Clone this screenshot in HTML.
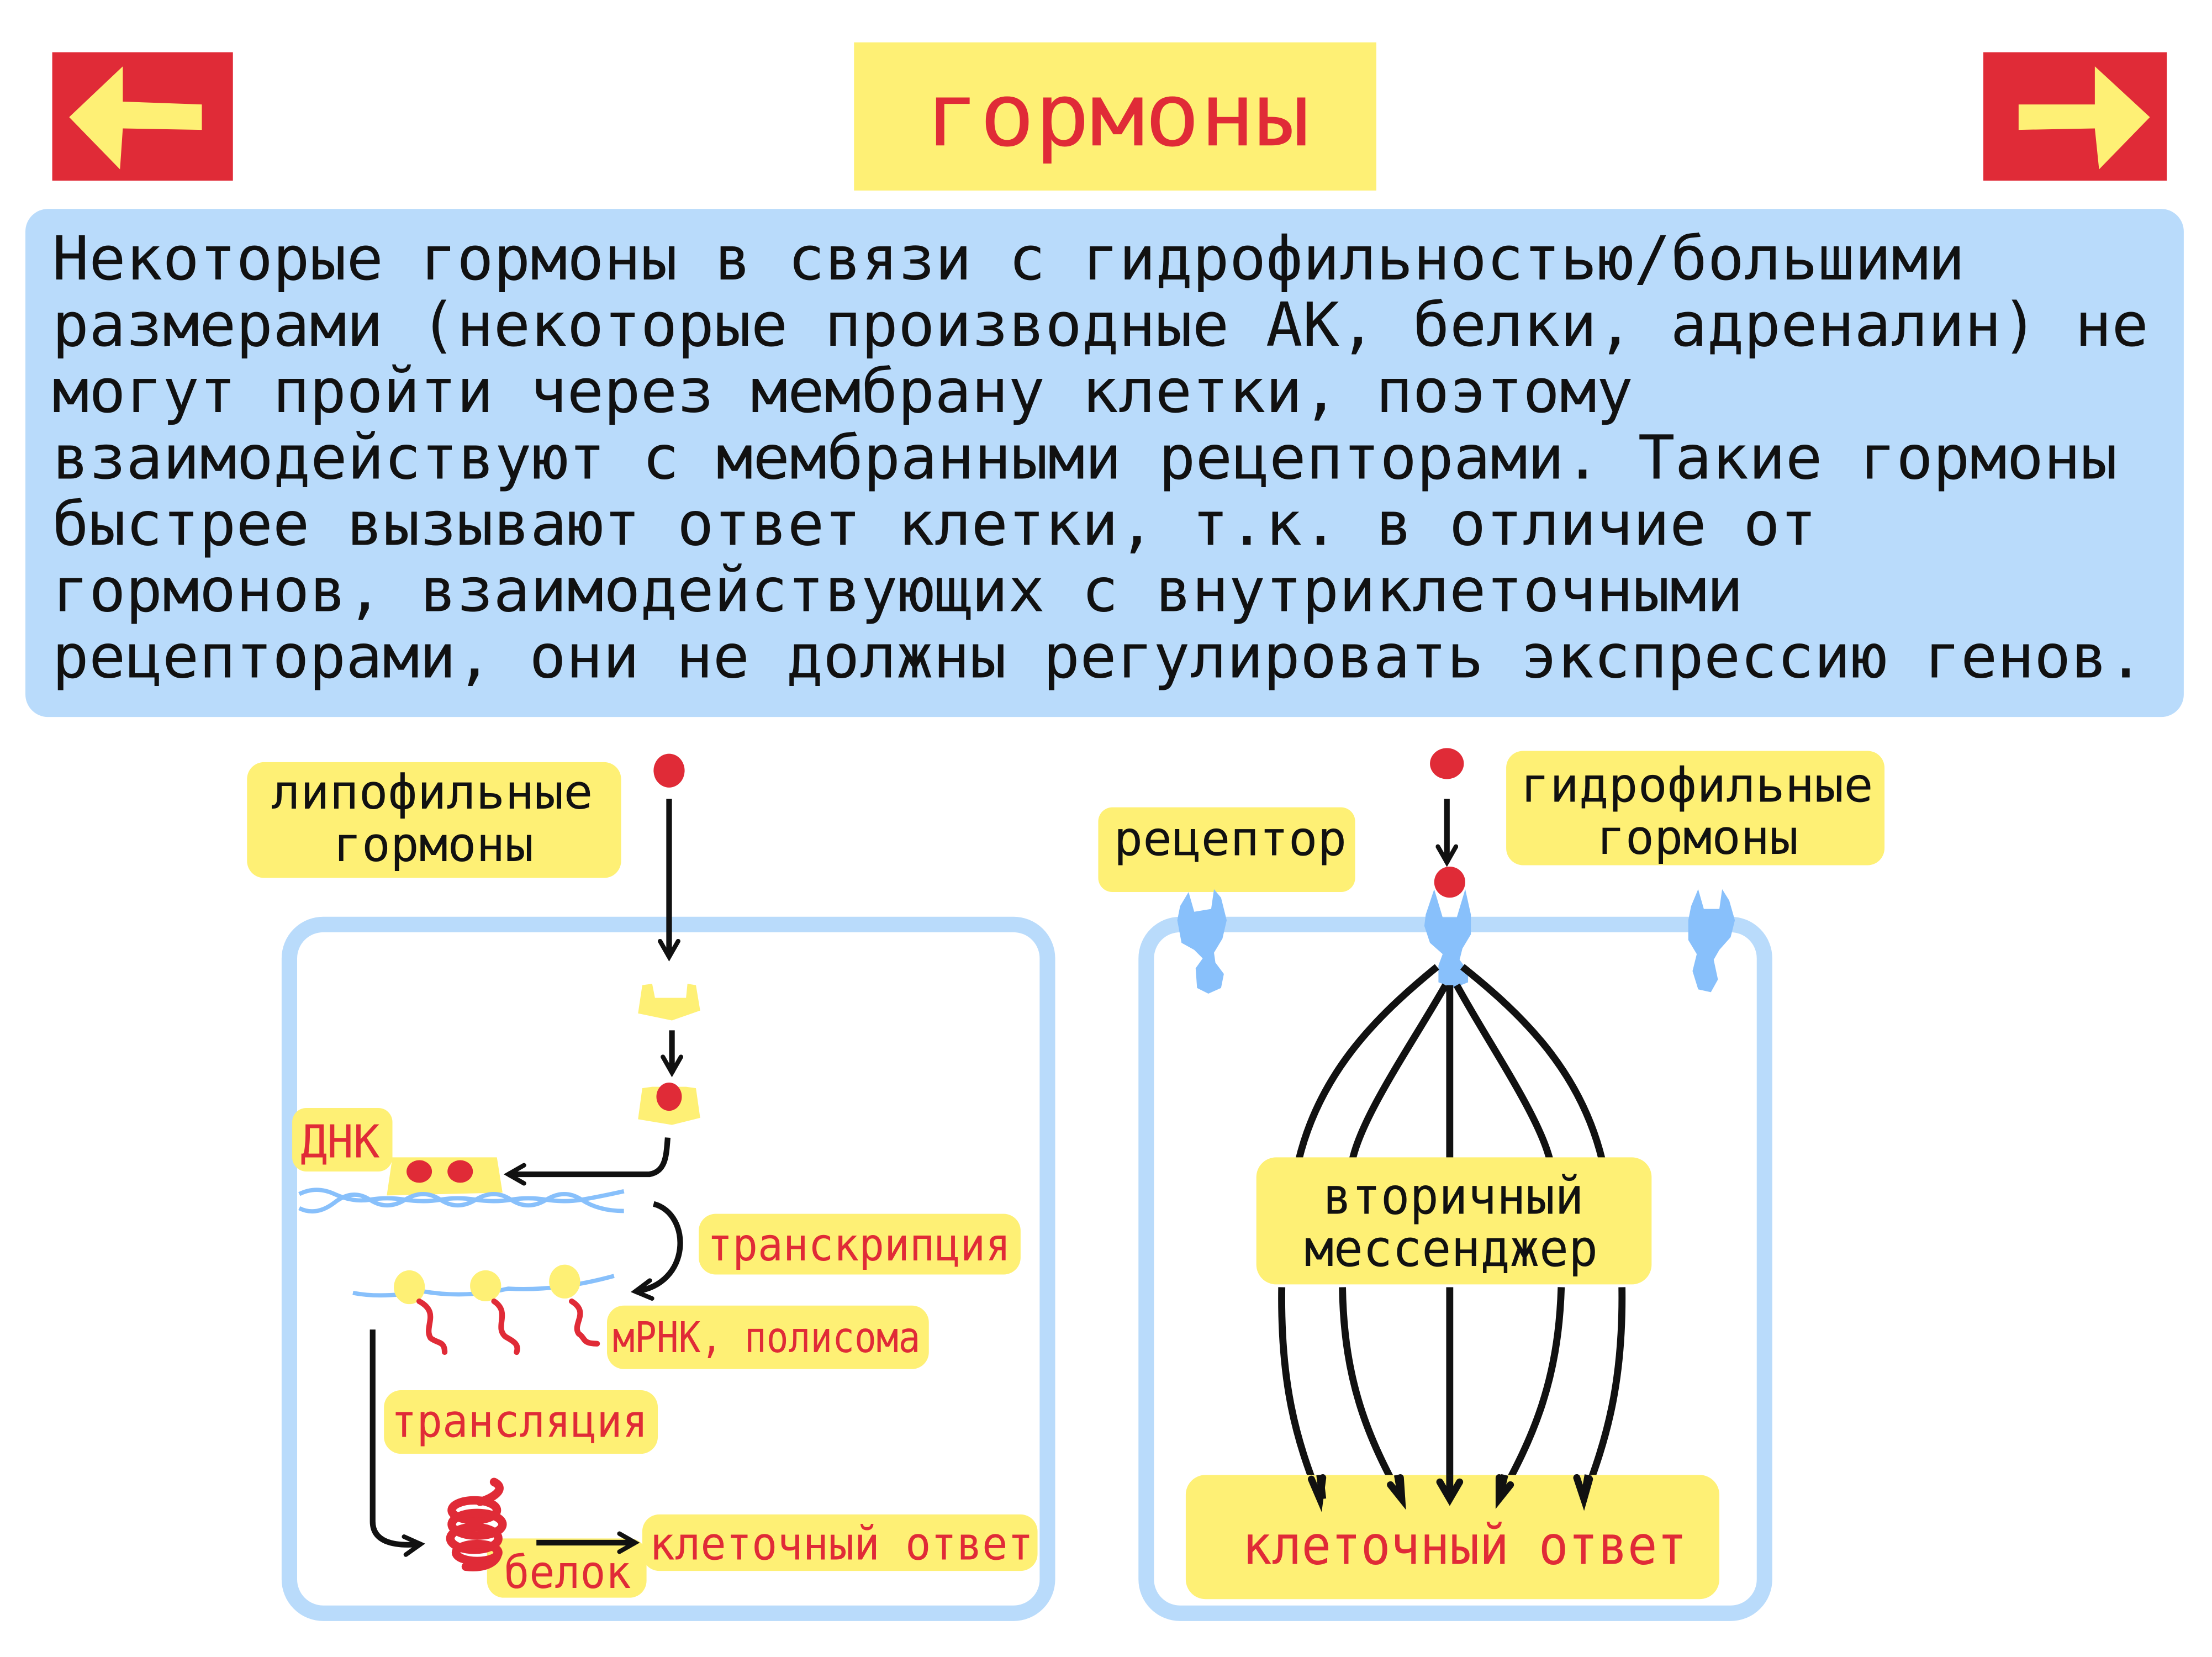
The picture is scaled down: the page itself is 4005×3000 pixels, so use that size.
<!DOCTYPE html>
<html><head><meta charset="utf-8"><style>
html,body{margin:0;padding:0;background:#fff;}
svg{display:block;}
text{font-family:"DejaVu Sans Mono","Liberation Mono",monospace;}
</style></head><body>
<svg width="4005" height="3000" viewBox="0 0 1567 1174" preserveAspectRatio="none" xmlns="http://www.w3.org/2000/svg">
<defs>
<marker id="ah" viewBox="0 0 10 10" refX="8" refY="5" markerWidth="4" markerHeight="4" orient="auto"><path d="M1,1 L8,5 L1,9" fill="none" stroke="#111" stroke-width="2" stroke-linecap="round"/></marker>
</defs>
<rect x="37" y="37" width="128" height="91" fill="#e02b37"/>
<polygon points="49,83 87,47 87,72 143,74 143,92 87,91 85,120" fill="#fef075"/>
<rect x="1405" y="37" width="130" height="91" fill="#e02b37"/>
<polygon points="1523,83 1484,47 1484,74 1430,74 1430,92 1484,91 1487,120" fill="#fef075"/>
<rect x="605" y="30" width="370" height="105" fill="#fef075"/>
<text x="655" y="103" font-size="62" fill="#e02b37" textLength="273" lengthAdjust="spacingAndGlyphs">гормоны</text>
<rect x="18" y="148" width="1529" height="360" rx="16" fill="#b9dbfb"/>
<g font-size="43" fill="#111">
<text x="37" y="198" textLength="1355" lengthAdjust="spacingAndGlyphs">Некоторые гормоны в связи с гидрофильностью/большими</text>
<text x="37" y="245" textLength="1485" lengthAdjust="spacingAndGlyphs">размерами (некоторые производные АК, белки, адреналин) не</text>
<text x="37" y="292" textLength="1120" lengthAdjust="spacingAndGlyphs">могут пройти через мембрану клетки, поэтому</text>
<text x="37" y="339" textLength="1463" lengthAdjust="spacingAndGlyphs">взаимодействуют с мембранными рецепторами. Такие гормоны</text>
<text x="37" y="386" textLength="1250" lengthAdjust="spacingAndGlyphs">быстрее вызывают ответ клетки, т.к. в отличие от</text>
<text x="37" y="433" textLength="1198" lengthAdjust="spacingAndGlyphs">гормонов, взаимодействующих с внутриклеточными</text>
<text x="37" y="480" textLength="1482" lengthAdjust="spacingAndGlyphs">рецепторами, они не должны регулировать экспрессию генов.</text>
</g>
<rect x="205" y="655" width="537" height="488" rx="24" fill="none" stroke="#b9dbfb" stroke-width="11"/>
<rect x="175" y="540" width="265" height="82" rx="12" fill="#fef075"/>
<text x="192" y="573" font-size="34" fill="#111" textLength="228" lengthAdjust="spacingAndGlyphs">липофильные</text>
<text x="236" y="610" font-size="34" fill="#111" textLength="142" lengthAdjust="spacingAndGlyphs">гормоны</text>
<ellipse cx="474" cy="546" rx="11" ry="12" fill="#e02b37"/>
<line x1="474" y1="566" x2="474" y2="678" stroke="#111" stroke-width="4" marker-end="url(#ah)"/>
<path d="M455,698 L462,697 L464,707 L486,707 L487,697 L493,698 L496,716 L476,723 L452,718 Z" fill="#fef075"/>
<line x1="476" y1="730" x2="476" y2="760" stroke="#111" stroke-width="4" marker-end="url(#ah)"/>
<path d="M455,771 L462,770 L486,770 L493,771 L496,792 L476,797 L452,793 Z" fill="#fef075"/>
<ellipse cx="474" cy="777" rx="9" ry="10" fill="#e02b37"/>
<path d="M473,806 C472,818 472,830 460,832 L360,832" fill="none" stroke="#111" stroke-width="4" marker-end="url(#ah)"/>
<rect x="207" y="785" width="71" height="45" rx="10" fill="#fef075"/>
<text x="213" y="820" font-size="32" fill="#e02b37" textLength="56" lengthAdjust="spacingAndGlyphs">ДНК</text>
<path d="M278,820 L352,820 L356,845 L274,847 Z" fill="#fef075"/>
<ellipse cx="297" cy="830" rx="9" ry="8" fill="#e02b37"/>
<ellipse cx="326" cy="830" rx="9" ry="8" fill="#e02b37"/>
<path d="M212,846 Q224,840 237,846 T262,850 T287,850 T312,850 T337,850 T362,850 T387,850 T412,850 T442,844" fill="none" stroke="#88c0fb" stroke-width="3"/>
<path d="M212,856 Q224,862 237,852 T262,850 T287,850 T312,850 T337,850 T362,850 T387,850 T412,850 T442,858" fill="none" stroke="#88c0fb" stroke-width="3"/>
<path d="M463,853 C490,860 490,910 450,915" fill="none" stroke="#111" stroke-width="4" marker-end="url(#ah)"/>
<rect x="495" y="860" width="228" height="43" rx="12" fill="#fef075"/>
<text x="501" y="893" font-size="32" fill="#e02b37" textLength="215" lengthAdjust="spacingAndGlyphs">транскрипция</text>
<path d="M250,916 Q270,920 300,915 Q330,920 360,913 Q395,915 435,904" fill="none" stroke="#88c0fb" stroke-width="3"/>
<ellipse cx="290" cy="912" rx="11" ry="12" fill="#fef075"/>
<ellipse cx="344" cy="911" rx="11" ry="11" fill="#fef075"/>
<ellipse cx="400" cy="908" rx="11" ry="12" fill="#fef075"/>
<g fill="none" stroke="#e02b37" stroke-width="4" stroke-linecap="round">
<path d="M297,922 C312,930 300,940 305,948 C310,952 315,950 315,958"/>
<path d="M350,922 C362,930 350,940 358,947 C363,950 368,952 366,958"/>
<path d="M405,922 C418,930 405,938 410,945 C415,948 412,952 423,952"/>
</g>
<rect x="430" y="925" width="228" height="45" rx="12" fill="#fef075"/>
<text x="434" y="958" font-size="30" fill="#e02b37" textLength="218" lengthAdjust="spacingAndGlyphs">мРНК, полисома</text>
<rect x="272" y="985" width="194" height="45" rx="12" fill="#fef075"/>
<text x="277" y="1018" font-size="32" fill="#e02b37" textLength="182" lengthAdjust="spacingAndGlyphs">трансляция</text>
<path d="M264,942 L264,1078 C264,1092 278,1096 298,1094" fill="none" stroke="#111" stroke-width="4" marker-end="url(#ah)"/>
<rect x="345" y="1090" width="113" height="42" rx="12" fill="#fef075"/>
<g fill="none" stroke="#e02b37" stroke-width="6" stroke-linecap="round">
<path d="M350,1050 C360,1055 348,1062 340,1064"/>
<ellipse cx="336" cy="1070" rx="16" ry="7"/>
<ellipse cx="338" cy="1080" rx="18" ry="8"/>
<ellipse cx="336" cy="1090" rx="17" ry="8"/>
<ellipse cx="338" cy="1100" rx="15" ry="6"/>
<path d="M330,1110 C345,1112 355,1105 352,1098"/>
</g>
<text x="357" y="1125" font-size="32" fill="#e02b37" textLength="90" lengthAdjust="spacingAndGlyphs">белок</text>
<line x1="380" y1="1093" x2="450" y2="1093" stroke="#111" stroke-width="4" marker-end="url(#ah)"/>
<rect x="455" y="1073" width="280" height="40" rx="12" fill="#fef075"/>
<text x="460" y="1105" font-size="32" fill="#e02b37" textLength="272" lengthAdjust="spacingAndGlyphs">клеточный ответ</text>
<rect x="812" y="655" width="438" height="488" rx="24" fill="none" stroke="#b9dbfb" stroke-width="11"/>
<rect x="778" y="572" width="182" height="60" rx="10" fill="#fef075"/>
<text x="789" y="606" font-size="34" fill="#111" textLength="165" lengthAdjust="spacingAndGlyphs">рецептор</text>
<rect x="1067" y="532" width="268" height="81" rx="12" fill="#fef075"/>
<text x="1077" y="568" font-size="34" fill="#111" textLength="250" lengthAdjust="spacingAndGlyphs">гидрофильные</text>
<text x="1131" y="605" font-size="34" fill="#111" textLength="143" lengthAdjust="spacingAndGlyphs">гормоны</text>
<ellipse cx="1025" cy="541" rx="12" ry="11" fill="#e02b37"/>
<line x1="1025" y1="566" x2="1025" y2="611" stroke="#111" stroke-width="4" marker-end="url(#ah)"/>
<g fill="#88c0fb">
<path d="M836,642 L842,632 L846,646 L858,644 L860,630 L865,636 L869,652 L866,665 L860,675 L861,682 L867,690 L865,700 L856,704 L848,700 L847,686 L852,679 L846,673 L837,668 L834,652 Z"/>
<path d="M1198,642 L1203,630 L1207,644 L1218,644 L1220,630 L1225,638 L1229,652 L1226,664 L1218,673 L1214,680 L1217,694 L1212,703 L1203,701 L1199,688 L1202,676 L1196,666 L1196,652 Z"/>
<path d="M1010,648 L1016,630 L1022,650 L1032,650 L1038,630 L1042,648 L1042,662 L1036,672 L1034,680 L1040,688 L1040,696 L1030,700 L1019,696 L1019,684 L1022,676 L1013,668 L1009,656 Z"/>
</g>
<ellipse cx="1027" cy="625" rx="11" ry="11" fill="#e02b37"/>
<g fill="none" stroke="#111" stroke-width="5">
<path d="M1018,685 C975,720 935,760 920,822"/>
<path d="M1024,698 C1000,740 965,790 958,822"/>
<line x1="1027" y1="698" x2="1027" y2="822"/>
<path d="M1032,698 C1055,740 1090,790 1098,822"/>
<path d="M1036,685 C1080,720 1120,760 1135,822"/>
<path d="M908,912 C907,980 918,1020 935,1062"/>
<path d="M951,912 C952,980 970,1020 993,1062"/>
<line x1="1027" y1="912" x2="1027" y2="1060"/>
<path d="M1106,912 C1104,980 1085,1020 1062,1062"/>
<path d="M1149,912 C1150,980 1138,1020 1122,1062"/>
</g>
<g fill="none" stroke="#111" stroke-width="5" stroke-linecap="round">
<path d="M929,1048 L935,1062 L937,1047"/>
<path d="M985,1052 L993,1062 L992,1047"/>
<path d="M1020,1050 L1027,1062 L1034,1050"/>
<path d="M1062,1047 L1062,1062 L1070,1052"/>
<path d="M1117,1047 L1122,1062 L1126,1048"/>
</g>
<rect x="890" y="820" width="280" height="90" rx="14" fill="#fef075"/>
<text x="937" y="860" font-size="36" fill="#111" textLength="185" lengthAdjust="spacingAndGlyphs">вторичный</text>
<text x="924" y="897" font-size="36" fill="#111" textLength="208" lengthAdjust="spacingAndGlyphs">мессенджер</text>
<rect x="840" y="1045" width="378" height="88" rx="14" fill="#fef075"/>
<g fill="none" stroke="#111" stroke-width="5"><path d="M935,1045 L937,1062"/><path d="M990,1045 L993,1062"/><line x1="1027" y1="1045" x2="1027" y2="1060"/><path d="M1066,1045 L1062,1062"/><path d="M1125,1045 L1122,1062"/></g>
<g fill="none" stroke="#111" stroke-width="5" stroke-linecap="round">
<path d="M929,1048 L935,1062 L937,1047"/>
<path d="M985,1052 L993,1062 L992,1047"/>
<path d="M1020,1050 L1027,1062 L1034,1050"/>
<path d="M1062,1047 L1062,1062 L1070,1052"/>
<path d="M1117,1047 L1122,1062 L1126,1048"/>
</g>
<text x="880" y="1108" font-size="38" fill="#e02b37" textLength="315" lengthAdjust="spacingAndGlyphs">клеточный ответ</text>
</svg>
</body></html>
